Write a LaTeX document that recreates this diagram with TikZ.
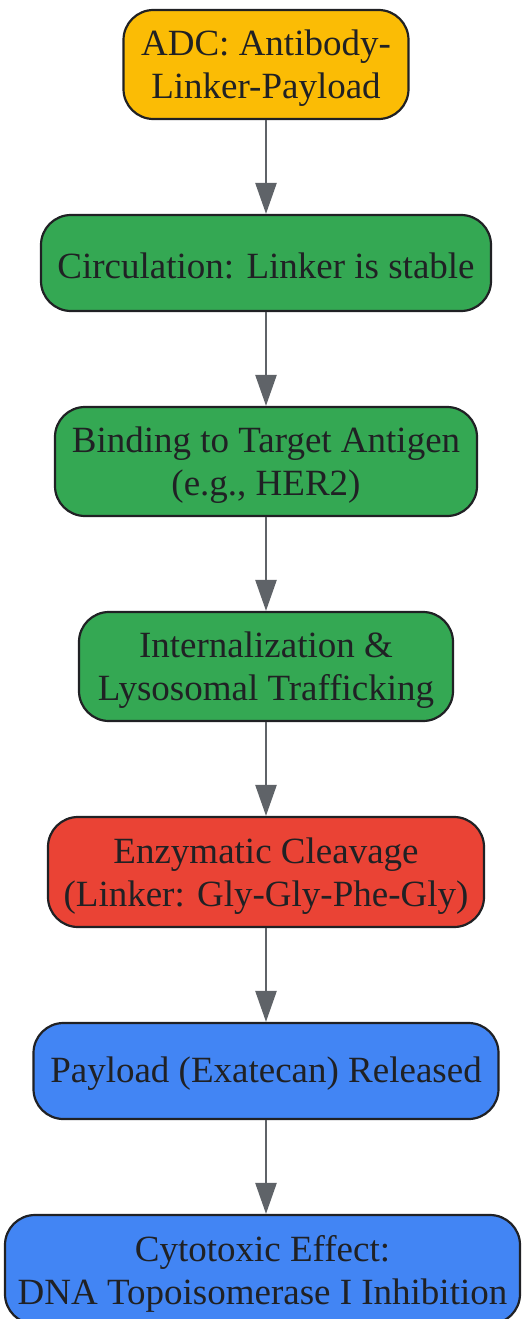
\documentclass[tikz,border=0pt]{standalone}
\usepackage{fontspec}
\setmainfont{Liberation Serif}
\usetikzlibrary{arrows.meta}
\definecolor{cyellow}{HTML}{FBBC05}
\definecolor{cgreen}{HTML}{34A853}
\definecolor{cred}{HTML}{EA4335}
\definecolor{cblue}{HTML}{4285F4}
\definecolor{ctext}{HTML}{202124}
\definecolor{carrow}{HTML}{5F6368}
\tikzset{
  box/.style={draw=ctext, line width=2.2pt, rounded corners=30pt, inner sep=0pt},
  lbl/.style={align=center, text=ctext, inner sep=0pt, font=\fontsize{37}{43}\selectfont},
  flow/.style={draw=carrow, line width=2.6pt, -{Triangle[length=31pt,width=21pt]}}
}
\begin{document}
\begin{tikzpicture}[x=1pt,y=1pt]
\useasboundingbox (0,0) rectangle (522,-1319);
\node[box, fill=cyellow, minimum width=285pt, minimum height=109pt] (n1) at (266,-64.5) {};
\node[box, fill=cgreen, minimum width=450pt, minimum height=96pt] (n2) at (266,-263) {};
\node[box, fill=cgreen, minimum width=422pt, minimum height=109pt] (n3) at (266,-461.5) {};
\node[box, fill=cgreen, minimum width=374pt, minimum height=109pt] (n4) at (266,-666.5) {};
\node[box, fill=cred, minimum width=436pt, minimum height=110pt] (n5) at (266,-872) {};
\node[box, fill=cblue, minimum width=465pt, minimum height=96pt] (n6) at (266,-1071) {};
\node[box, fill=cblue, minimum width=515pt, minimum height=109pt] (n7) at (262.5,-1269.5) {};
\node[lbl] (t1) at ([yshift=-4pt]n1.center) {ADC: Antibody-\\Linker-Payload};
\node[lbl] (t2) at ([yshift=-3pt]n2.center) {Circulation: Linker is stable};
\node[lbl] (t3) at ([yshift=-4pt]n3.center) {Binding to Target Antigen\\(e.g., HER2)};
\node[lbl] (t4) at ([yshift=-4pt]n4.center) {Internalization \&\\Lysosomal Trafficking};
\node[lbl] (t5) at ([yshift=-4pt]n5.center) {Enzymatic Cleavage\\(Linker: Gly-Gly-Phe-Gly)};
\node[lbl] (t6) at ([yshift=-3pt]n6.center) {Payload (Exatecan) Released};
\node[lbl] (t7) at ([yshift=-4pt]n7.center) {Cytotoxic Effect:\\DNA Topoisomerase I Inhibition};
\draw[flow] (n1.south -| 266,0) -- (n2.north -| 266,0);
\draw[flow] (n2.south -| 266,0) -- (n3.north -| 266,0);
\draw[flow] (n3.south -| 266,0) -- (n4.north -| 266,0);
\draw[flow] (n4.south -| 266,0) -- (n5.north -| 266,0);
\draw[flow] (n5.south -| 266,0) -- (n6.north -| 266,0);
\draw[flow] (n6.south -| 266,0) -- (n7.north -| 266,0);
\end{tikzpicture}
\end{document}
